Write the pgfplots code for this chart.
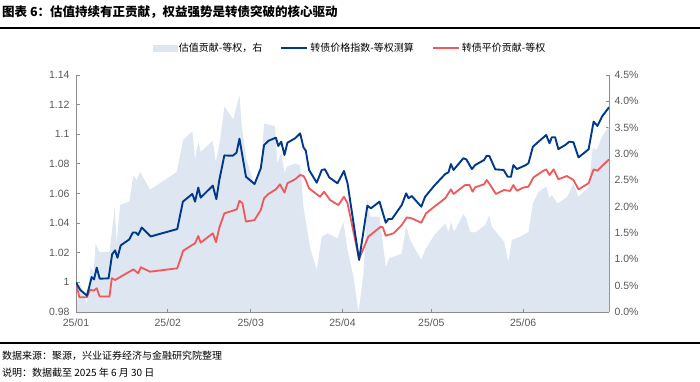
\documentclass[border=0pt]{standalone}
\usepackage{pgfplots}
\pgfplotsset{compat=1.18}
\usepackage{pgfplotstable}
\usepackage{fontspec}
\setmainfont{Liberation Sans}
\newfontfamily\cjk{Noto Sans CJK SC}
\definecolor{navy}{RGB}{0,56,140}
\definecolor{redl}{RGB}{240,88,90}
\definecolor{areac}{RGB}{221,230,241}
\definecolor{axg}{RGB}{140,140,140}
\definecolor{tickg}{RGB}{89,89,89}

\pgfplotstableread{
d v
0 1.000
1.4 0.995
3.7 0.991
5.3 1.0036
6.1 1.002
7.0 1.010
8.0 1.0025
11.0 1.0027
12.2 1.019
13.2 1.0216
14.0 1.0166
15.1 1.025
18.0 1.029
19.2 1.0337
20.2 1.0337
21.0 1.032
22.2 1.037
25.2 1.031
34.2 1.036
36.1 1.0545
39.3 1.0597
40.2 1.0545
41.3 1.0640
42.1 1.0572
46.2 1.0653
47.4 1.0562
48.4 1.0691
50.1 1.0857
52.9 1.0855
54.2 1.0875
55.2 1.097
57.4 1.0713
60.3 1.0664
62.4 1.077
63.5 1.0927
65.0 1.0956
67.5 1.0977
68.3 1.0921
69.3 1.095
70.4 1.086
71.4 1.0943
74.0 1.0973
75.7 1.1006
76.8 1.0912
77.6 1.0889
78.7 1.0759
81.3 1.0673
83.0 1.0759
84.1 1.0763
85.5 1.0709
88.3 1.0669
90.5 1.0752
91.7 1.0669
95.6 1.0151
98.4 1.0518
99.6 1.0500
102.5 1.0545
104.6 1.0403
105.5 1.0428
106.7 1.0428
110.0 1.0522
111.5 1.0601
112.3 1.0568
113.4 1.0583
116.6 1.0511
117.9 1.0578
121.0 1.0653
124.7 1.0732
125.8 1.0743
126.6 1.0799
127.5 1.0759
130.8 1.0838
131.8 1.0831
133.7 1.0765
134.8 1.0792
137.8 1.0826
138.7 1.0855
139.6 1.0853
141.6 1.0763
144.4 1.0759
145.8 1.0713
146.9 1.0713
147.7 1.0792
148.9 1.0765
151.7 1.0790
152.8 1.0804
154.3 1.0916
156.2 1.0950
158.8 1.0995
159.9 1.0939
160.7 1.0980
161.8 1.0980
162.9 1.0900
165.2 1.0927
166.6 1.0950
168.0 1.0946
169.7 1.0844
173.1 1.0898
174.8 1.1085
176.1 1.1056
177.6 1.1118
180.0 1.1182
}\blueT

\pgfplotstableread{
d v
0 1.000
1.1 0.990
3.7 0.990
4.7 0.995
6.0 0.9945
7.0 0.996
8.0 0.9905
11.3 0.9904
12.1 1.0028
13.2 1.0016
19.4 1.0088
21.0 1.0061
21.9 1.0102
25.0 1.0072
34.2 1.0095
36.2 1.0214
40.2 1.0264
41.3 1.0313
42.1 1.0268
46.2 1.0331
47.3 1.0271
48.4 1.0369
50.1 1.0466
54.3 1.0493
55.2 1.0551
56.2 1.0534
57.4 1.0410
60.3 1.0421
62.4 1.0489
63.5 1.0568
65.0 1.0597
67.5 1.0628
68.9 1.0662
70.4 1.0606
71.4 1.0669
74.0 1.0696
75.7 1.0725
76.8 1.0718
77.6 1.0691
78.7 1.0635
82.4 1.0578
83.8 1.0612
85.8 1.0556
88.6 1.0522
90.5 1.0578
91.7 1.0534
95.6 1.0158
98.7 1.0308
102.9 1.0376
103.6 1.0372
104.6 1.0315
107.2 1.0331
110.0 1.0387
111.7 1.0439
113.4 1.0432
116.6 1.0403
118.2 1.0466
121.0 1.0511
124.7 1.0568
126.6 1.0628
127.5 1.0597
131.4 1.0657
132.9 1.0657
133.9 1.0612
134.8 1.0642
137.8 1.0662
138.7 1.0691
139.9 1.0657
141.8 1.0597
144.6 1.0624
146.6 1.0617
147.7 1.0657
148.9 1.0619
151.0 1.0640
152.8 1.0646
154.5 1.0709
157.9 1.0754
158.8 1.0763
159.9 1.0725
161.3 1.0763
162.9 1.0696
165.8 1.0718
168.0 1.0691
169.7 1.0628
173.1 1.0669
174.8 1.0763
176.1 1.0754
180.0 1.0831
}\redT

\pgfplotstableread{
d v
0 0.05
1.3 0.55
3.7 0.15
4.9 0.85
6.0 0.75
6.6 1.30
7.9 1.14
11.3 1.14
13.1 2.00
13.7 1.30
14.9 2.03
18.0 2.10
19.4 2.60
20.5 2.50
21.6 2.66
25.0 2.32
34.0 2.66
36.2 3.27
39.3 3.43
40.2 2.90
41.3 3.23
42.1 3.04
46.2 3.25
47.2 2.85
48.6 3.23
50.1 3.90
53.1 3.66
55.2 4.12
56.0 3.52
57.6 2.89
60.3 2.41
62.4 2.70
63.5 3.58
67.2 3.53
68.0 2.82
69.3 3.04
70.4 2.63
71.2 2.76
74.0 2.82
75.7 2.79
76.8 2.00
79.1 1.21
81.3 0.80
83.0 1.43
85.0 1.49
88.3 1.40
90.3 1.71
91.7 1.18
93.7 0.67
95.4 0.00
97.1 0.73
98.4 2.16
99.3 1.81
102.5 1.81
104.6 0.86
105.8 1.02
110.0 1.11
111.5 1.65
112.8 1.37
116.6 0.99
117.9 1.18
121.0 1.46
124.7 1.68
125.8 1.52
126.6 1.71
127.7 1.52
130.8 1.86
131.8 1.78
133.1 1.52
134.8 1.51
138.2 1.65
139.6 1.84
140.4 1.62
144.6 1.33
146.0 0.95
147.2 1.37
150.0 1.43
152.8 1.52
154.3 2.06
156.2 2.28
158.8 2.38
159.9 2.16
160.7 2.22
162.6 2.06
165.8 2.18
168.0 2.44
169.7 2.19
173.1 2.37
174.5 3.11
175.9 3.08
177.6 3.33
180.0 3.52
}\areaT

\pgfplotsset{
  common/.style={
    at={(76bp,69bp)}, anchor=south west,
    width=533bp, height=237bp, scale only axis,
    xmin=0, xmax=180,
    axis line style={axg, line width=0.9bp},
    tick style={axg, line width=0.8bp},
    major tick length=3.5bp,
    tick align=inside,
    /pgf/number format/assume math mode=true,
    ticklabel style={font=\fontsize{10.5bp}{12bp}\selectfont, text=tickg},
  }
}

\begin{document}
\begin{tikzpicture}[x=1bp,y=1bp]
\path[use as bounding box] (0,0) rectangle (700,381);

% right axis with area
\begin{axis}[common,
  axis x line=none,
  axis y line*=right,
  ymin=0, ymax=4.5,
  ytick={0,0.5,...,4.5},
  yticklabel={\pgfmathprintnumber[fixed,fixed zerofill,precision=1]{\tick}\%},
  yticklabel style={xshift=2bp},
]
\addplot[fill=areac, draw=none] table[x=d,y=v] {\areaT} \closedcycle;
\end{axis}

% left axis with lines
\begin{axis}[common,
  axis x line*=bottom,
  axis y line*=left,
  ymin=0.98, ymax=1.14,
  ytick={0.98,1,1.02,1.04,1.06,1.08,1.1,1.12,1.14},
  yticklabels={0.98,1,1.02,1.04,1.06,1.08,1.1,1.12,1.14},
  xtick={0,31,59,90,120,151},
  xticklabels={25/01,25/02,25/03,25/04,25/05,25/06},
  yticklabel style={xshift=-3bp},
  xticklabel style={yshift=-3bp},
  legend columns=3,
  legend style={at={(0.514,1.114)}, anchor=center, draw=none, fill=none,
    font=\cjk\fontsize{10bp}{12bp}\selectfont,
    /tikz/every even column/.append style={column sep=16bp}},
]
\addlegendimage{legend image code/.code={\fill[areac] (0bp,-3bp) rectangle (24bp,3bp);}}
\addlegendentry{估值贡献-等权，右}
\addlegendimage{legend image code/.code={\draw[navy, line width=2bp] (0bp,0bp) -- (26bp,0bp);}}
\addlegendentry{转债价格指数-等权测算}
\addlegendimage{legend image code/.code={\draw[redl, line width=2bp] (0bp,0bp) -- (26bp,0bp);}}
\addlegendentry{转债平价贡献-等权}
\addplot[redl, line width=1.8bp, line join=round] table[x=d,y=v] {\redT};
\addplot[navy, line width=1.9bp, line join=round] table[x=d,y=v] {\blueT};
\end{axis}

\node[anchor=west, inner sep=0] at (2,369) {\cjk\bfseries\fontsize{12.5bp}{15bp}\selectfont 图表 6：估值持续有正贡献，权益强势是转债突破的核心驱动};
\draw[line width=1.6bp] (0,353) -- (700,353);
\draw[line width=1.6bp] (0,38) -- (700,38);
\node[anchor=west, inner sep=0] at (2,25) {\cjk\fontsize{10bp}{12bp}\selectfont 数据来源：聚源，兴业证券经济与金融研究院整理};
\node[anchor=west, inner sep=0] at (2,8) {\cjk\fontsize{10bp}{12bp}\selectfont 说明：数据截至 2025 年 6 月 30 日};
\end{tikzpicture}
\end{document}
